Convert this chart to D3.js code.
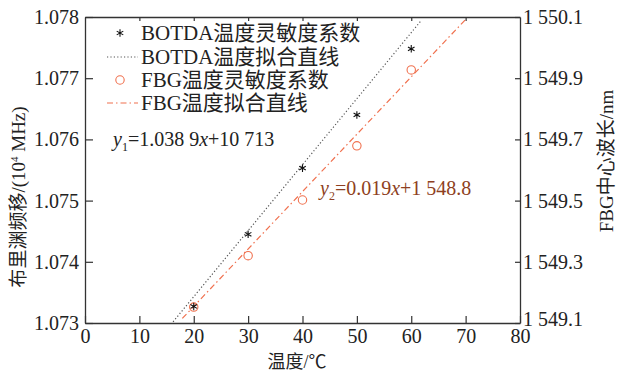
<!DOCTYPE html>
<html>
<head>
<meta charset="utf-8">
<script src="https://cdn.jsdelivr.net/npm/d3@7"></script>
<style>
  body { margin: 0; background: #fff; }
  svg { display: block; }
  text { font-family: "Liberation Serif", "Times New Roman", "Noto Sans CJK SC", serif; fill: #222; }
</style>
</head>
<body>
<svg id="chart" width="618" height="374"></svg>
<script>
// values
const temps = [20, 30, 40, 50, 60];
const botda = [1.07327, 1.07445, 1.07553, 1.07640, 1.07748];
const fbg = [1549.152, 1549.320, 1549.502, 1549.679, 1549.927];

// fitted lines, ends as drawn
const botdaFitX = [16.2, 61.9];
const botdaFitY = [1.07302, 1.07795];
const fbgFitX = [17.9, 69.9];
const fbgFitY = [1549.115, 1550.09];

const xTicks = [0, 10, 20, 30, 40, 50, 60, 70, 80];
const leftTicks = [1.073, 1.074, 1.075, 1.076, 1.077, 1.078];
const rightTicks = [1549.1, 1549.3, 1549.5, 1549.7, 1549.9, 1550.1];

const legendLabels = ['BOTDA温度灵敏度系数', 'BOTDA温度拟合直线', 'FBG温度灵敏度系数', 'FBG温度拟合直线'];

// layout
const pLeft = 85, pRight = 520, pTop = 17, pBottom = 323;
const orange = '#f0714f';
const axisColor = '#333';

const svg = d3.select('#chart');

const x = d3.scaleLinear().domain([0, 80]).range([pLeft, pRight]);
const yL = d3.scaleLinear().domain([1.073, 1.078]).range([pBottom, pTop]);
const yR = d3.scaleLinear().domain([1549.1, 1550.1]).range([pBottom, pTop]);

// axes (ticks point inward)
const styleAxis = g => {
  g.select('.domain').attr('stroke', axisColor).attr('stroke-width', 1.3);
  g.selectAll('.tick line').attr('stroke', axisColor).attr('stroke-width', 1.2);
  g.selectAll('.tick text').style('font-size', '20px').attr('fill', '#222');
};

svg.append('g')
  .attr('transform', `translate(0,${pBottom})`)
  .call(d3.axisBottom(x).tickValues(xTicks).tickSizeInner(-7).tickSizeOuter(0).tickPadding(16))
  .call(styleAxis)
  .call(g => g.selectAll('.tick text').attr('dy', '0.2em'));

svg.append('g')
  .attr('transform', `translate(0,${pTop})`)
  .call(d3.axisTop(x).tickValues(xTicks.slice(1, -1)).tickSizeInner(-4).tickSizeOuter(0).tickFormat(''))
  .call(styleAxis);

svg.append('g')
  .attr('transform', `translate(${pLeft},0)`)
  .call(d3.axisLeft(yL).tickValues(leftTicks).tickSizeInner(-8).tickSizeOuter(0).tickPadding(6).tickFormat(d3.format('.3f')))
  .call(styleAxis);

const fmtR = d => d3.format(',.1f')(d).replace(',', ' ');
svg.append('g')
  .attr('transform', `translate(${pRight},0)`)
  .call(d3.axisRight(yR).tickValues(rightTicks).tickSizeInner(-5).tickSizeOuter(0).tickPadding(3).tickFormat(fmtR))
  .call(styleAxis)
  .call(g => g.selectAll('.tick text').filter(d => d === 1549.1).attr('dy', '0.1em'));

// axis titles
svg.append('text')
  .attr('x', 297).attr('y', 368)
  .attr('text-anchor', 'middle')
  .style('font-size', '18px')
  .text('温度/℃');

const lt = svg.append('text')
  .attr('transform', 'translate(25,197) rotate(-90)')
  .attr('text-anchor', 'middle')
  .style('font-size', '19px');
lt.append('tspan').text('布里渊频移/(10');
lt.append('tspan').attr('dy', -7).style('font-size', '11px').text('4');
lt.append('tspan').attr('dy', 7).text(' MHz)');

svg.append('text')
  .attr('transform', 'translate(613,161) rotate(-90)')
  .attr('text-anchor', 'middle')
  .style('font-size', '19px')
  .text('FBG中心波长/nm');

// fitted lines
const lineL = d3.line().x(d => x(d[0])).y(d => yL(d[1]));
const lineR = d3.line().x(d => x(d[0])).y(d => yR(d[1]));

svg.append('path')
  .attr('d', lineL(d3.zip(botdaFitX, botdaFitY)))
  .attr('fill', 'none').attr('stroke', '#555').attr('stroke-width', 1.2)
  .attr('stroke-dasharray', '1.2 2.2');

svg.append('path')
  .attr('d', lineR(d3.zip(fbgFitX, fbgFitY)))
  .attr('fill', 'none').attr('stroke', orange).attr('stroke-width', 1.2)
  .attr('stroke-dasharray', '6 3 1.5 3');

// markers
const star = d3.symbol().type(d3.symbolAsterisk).size(40);

svg.append('g').selectAll('circle')
  .data(d3.zip(temps, fbg))
  .join('circle')
  .attr('cx', d => x(d[0])).attr('cy', d => yR(d[1])).attr('r', 4.2)
  .attr('fill', 'none').attr('stroke', orange).attr('stroke-width', 1.1);

svg.append('g').selectAll('path')
  .data(d3.zip(temps, botda))
  .join('path')
  .attr('transform', d => `translate(${x(d[0])},${yL(d[1])})`)
  .attr('d', star)
  .attr('fill', 'none').attr('stroke', '#111').attr('stroke-width', 1.1);

// legend
const legendY = [33, 57, 80, 103];
const lg = svg.append('g');
lg.append('path')
  .attr('transform', `translate(120,${legendY[0]})`)
  .attr('d', star).attr('fill', 'none').attr('stroke', '#111').attr('stroke-width', 1.1);
lg.append('line')
  .attr('x1', 107).attr('x2', 138).attr('y1', legendY[1]).attr('y2', legendY[1])
  .attr('stroke', '#555').attr('stroke-width', 1.2).attr('stroke-dasharray', '1.2 2.2');
lg.append('circle')
  .attr('cx', 120).attr('cy', legendY[2]).attr('r', 4.2)
  .attr('fill', 'none').attr('stroke', orange).attr('stroke-width', 1.1);
lg.append('line')
  .attr('x1', 107).attr('x2', 138).attr('y1', legendY[3]).attr('y2', legendY[3])
  .attr('stroke', orange).attr('stroke-width', 1.2).attr('stroke-dasharray', '6 3 1.5 3');
lg.selectAll('text.lbl')
  .data(legendLabels)
  .join('text')
  .attr('class', 'lbl')
  .attr('x', 141).attr('y', (d, i) => legendY[i] + 7)
  .style('font-size', '21px')
  .text(d => d);

// fit equations
const eq1 = svg.append('text').attr('x', 113).attr('y', 146).style('font-size', '20px');
eq1.append('tspan').style('font-style', 'italic').text('y');
eq1.append('tspan').attr('dy', 5).style('font-size', '12px').text('1');
eq1.append('tspan').attr('dy', -5).text('=1.038 9');
eq1.append('tspan').style('font-style', 'italic').text('x');
eq1.append('tspan').text('+10 713');

const eqColor = '#8e3f22';
const eq2 = svg.append('text').attr('x', 320).attr('y', 195).style('font-size', '20px').style('fill', eqColor);
eq2.append('tspan').style('font-style', 'italic').style('fill', eqColor).text('y');
eq2.append('tspan').attr('dy', 5).style('font-size', '12px').style('fill', eqColor).text('2');
eq2.append('tspan').attr('dy', -5).style('fill', eqColor).text('=0.019');
eq2.append('tspan').style('font-style', 'italic').style('fill', eqColor).text('x');
eq2.append('tspan').style('fill', eqColor).text('+1 548.8');
</script>
</body>
</html>
